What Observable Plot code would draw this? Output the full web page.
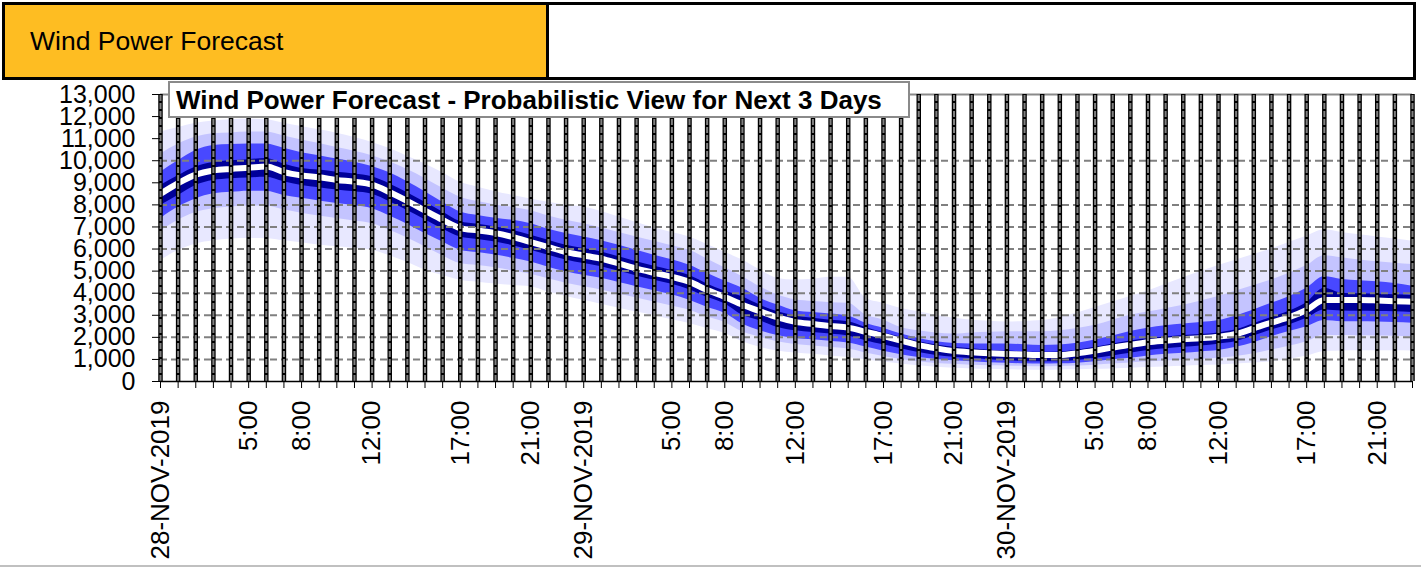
<!DOCTYPE html>
<html>
<head>
<meta charset="utf-8">
<script src="https://cdn.jsdelivr.net/npm/d3@7"></script>
<script src="https://cdn.jsdelivr.net/npm/@observablehq/plot@0.6"></script>
<style>
  body { margin: 0; background: #fff; }
  #wrap { position: relative; width: 1421px; height: 567px; overflow: hidden; background: #fff; font-family: "Liberation Sans", Arial, sans-serif; }
  #hdrLeft { position: absolute; left: 2px; top: 2px; width: 544px; height: 72px; background: #FEBD22; border: 3px solid #000; border-right: none; }
  #hdrLeft span { position: absolute; left: 25px; top: 21px; font-size: 26.5px; color: #000; }
  #hdrRight { position: absolute; left: 546px; top: 2px; width: 864px; height: 72px; background: #fff; border: 3px solid #000; }
  #chart { position: absolute; left: 0; top: 80px; }
  #title { position: absolute; left: 168px; top: 81px; width: 732px; height: 33px; background: #fff; border: 2px solid #8a8a8a; font-weight: bold; font-size: 26px; line-height: 34px; padding-left: 6px; box-sizing: content-box; white-space: nowrap; color: #000; }
  #bottomLine { position: absolute; left: 0; top: 565px; width: 1421px; height: 2px; background: #c0c0c0; }
</style>
</head>
<body>
<div id="wrap">
  <div id="hdrLeft"><span>Wind Power Forecast</span></div>
  <div id="hdrRight"></div>
  <div id="chart"></div>
  <div id="title">Wind Power Forecast - Probabilistic View for Next 3 Days</div>
  <div id="bottomLine"></div>
</div>
<script>
// Hours from 28-NOV-2019 00:00 (0..71)
const hours = d3.range(72);

// Labeled ticks on the x axis
const labeledHours = [0, 5, 8, 12, 17, 21, 24, 29, 32, 36, 41, 45, 48, 53, 56, 60, 65, 69];
const tickLabels = ["28-NOV-2019", "5:00", "8:00", "12:00", "17:00", "21:00",
                    "29-NOV-2019", "5:00", "8:00", "12:00", "17:00", "21:00",
                    "30-NOV-2019", "5:00", "8:00", "12:00", "17:00", "21:00"];

// Y gridlines shown in the reference
const gridValues = [1000, 2000, 3000, 4000, 5000, 6000, 7000, 8000, 10000];
const yTicks = [0, 1000, 2000, 3000, 4000, 5000, 6000, 7000, 8000, 9000, 10000, 11000, 12000, 13000];

// Forecast (MW)
const median = [8500, 8980, 9370, 9560, 9630, 9680, 9740, 9480, 9330, 9250, 9130, 9050, 8920,
  8570, 8170, 7740, 7320, 6950, 6840, 6720, 6540, 6310, 6090, 5860, 5710, 5560, 5340, 5110, 4920, 4740, 4510, 4140, 3830,
  3480, 3180, 2900, 2700, 2600, 2510, 2440, 2250, 2060, 1850, 1650, 1500, 1380, 1320, 1280,
  1250, 1220, 1200, 1200, 1280, 1400, 1540, 1660, 1780, 1850, 1910, 1960, 2030, 2150, 2410, 2670, 2910, 3240, 3690, 3690, 3690, 3670, 3640, 3610];

const navyHi = [8880, 9320, 9720, 9920, 10000, 10050, 10100, 9850, 9650, 9580, 9480, 9400, 9270,
  8950, 8550, 8120, 7680, 7250, 7120, 7000, 6840, 6620, 6400, 6170, 6020, 5870, 5650, 5420, 5220, 5030, 4800, 4420, 4100,
  3840, 3460, 3160, 2970, 2860, 2780, 2710, 2450, 2210, 2000, 1800, 1650, 1550, 1480, 1420,
  1380, 1340, 1330, 1340, 1420, 1550, 1700, 1830, 1950, 2020, 2080, 2130, 2200, 2340, 2620, 2900, 3180, 3570, 4220, 4000, 3970, 3950, 3930, 3900];

const navyLo = [7970, 8420, 8880, 9100, 9180, 9220, 9250, 9050, 8880, 8780, 8670, 8590, 8480,
  8140, 7750, 7330, 6910, 6540, 6430, 6320, 6150, 5940, 5720, 5500, 5340, 5200, 4990, 4780, 4590, 4410, 4160, 3820, 3520,
  3000, 2750, 2450, 2300, 2220, 2150, 2060, 1850, 1660, 1480, 1310, 1180, 1100, 1040, 990,
  950, 900, 890, 900, 950, 1050, 1160, 1280, 1400, 1480, 1550, 1610, 1690, 1810, 2060, 2330, 2560, 2860, 3240, 3190, 3180, 3170, 3160, 3120];

const medHi = [9480, 10000, 10460, 10690, 10730, 10760, 10760, 10560, 10360, 10230, 10080, 9930, 9740,
  9450, 9050, 8600, 8120, 7680, 7520, 7400, 7300, 7150, 6900, 6700, 6540, 6380, 6170, 5940, 5720, 5520, 5270, 4900, 4550,
  4220, 3770, 3460, 3200, 3120, 3060, 2970, 2640, 2410, 2150, 1950, 1800, 1720, 1700, 1700,
  1700, 1660, 1630, 1650, 1730, 1880, 2060, 2260, 2410, 2520, 2600, 2670, 2760, 2970, 3240, 3540, 3840, 4220, 4740, 4620, 4560, 4520, 4440, 4320];

const medLo = [7370, 7900, 8270, 8500, 8570, 8620, 8620, 8430, 8300, 8180, 8060, 7960, 7830,
  7500, 7120, 6700, 6320, 5950, 5840, 5730, 5580, 5410, 5180, 4970, 4810, 4680, 4480, 4290, 4110, 3930, 3680, 3360, 3090,
  2600, 2300, 2080, 1950, 1890, 1820, 1740, 1560, 1370, 1210, 1090, 1000, 940, 890, 850,
  830, 800, 790, 800, 830, 900, 980, 1050, 1160, 1230, 1280, 1340, 1400, 1550, 1760, 2030, 2260, 2480, 2760, 2710, 2710, 2700, 2670, 2640];

const lightHi = [10310, 10750, 11070, 11220, 11260, 11300, 11300, 11120, 10940, 10780, 10600, 10430, 10230,
  9950, 9600, 9200, 8750, 8350, 8150, 8000, 7880, 7740, 7500, 7300, 7140, 6950, 6750, 6550, 6350, 6150, 5940, 5550, 5150,
  4750, 4290, 3920, 3700, 3620, 3570, 3540, 3010, 2780, 2450, 2300, 2200, 2150, 2200, 2230,
  2250, 2250, 2250, 2300, 2400, 2550, 2780, 3000, 3150, 3300, 3450, 3650, 3850, 4100, 4350, 4600, 4900, 5250, 5700, 5600, 5500, 5420, 5360, 5300];

const lightLo = [6800, 7300, 7650, 7820, 7900, 7950, 7950, 7780, 7620, 7500, 7380, 7270, 7150,
  6850, 6500, 6100, 5700, 5340, 5250, 5150, 5000, 4860, 4650, 4450, 4290, 4150, 3960, 3780, 3600, 3420, 3230, 2930, 2670,
  2250, 2000, 1800, 1680, 1610, 1540, 1470, 1290, 1130, 1000, 900, 820, 780, 740, 710,
  700, 680, 670, 680, 700, 740, 790, 840, 890, 930, 960, 1000, 1050, 1130, 1260, 1430, 1600, 1800, 2100, 2080, 2070, 2060, 2050, 2030];

const lightestHi = [11300, 11500, 11700, 11800, 11860, 11880, 11860, 11700, 11550, 11400, 11250, 11050, 10830,
  10550, 10200, 9850, 9450, 9020, 8800, 8600, 8430, 8270, 8120, 8000, 7900, 7700, 7450, 7200, 6950, 6750, 6540, 6200, 5850,
  5500, 5050, 4670, 4600, 4630, 4720, 4720, 3770, 3540, 3310, 3160, 3000, 2860, 2780, 2730,
  2700, 2720, 2760, 2900, 3100, 3350, 3600, 3850, 4100, 4400, 4700, 4980, 5250, 5500, 5750, 6000, 6300, 6580, 6870, 6750, 6650, 6550, 6450, 6350];

const lightestLo = [5480, 5930, 6230, 6380, 6460, 6480, 6470, 6380, 6280, 6180, 6100, 6030, 5950,
  5700, 5400, 5050, 4800, 4590, 4500, 4420, 4350, 4290, 4050, 3850, 3680, 3500, 3320, 3150, 2980, 2800, 2630, 2400, 2180,
  1800, 1550, 1380, 1290, 1230, 1160, 1090, 980, 880, 790, 710, 650, 600, 570, 550,
  530, 520, 510, 520, 530, 550, 570, 600, 630, 660, 690, 720, 750, 790, 840, 900, 1000, 1150, 1360, 1380, 1390, 1390, 1390, 1380];

const rows = hours.map((h, i) => ({
  h, median: median[i], navyHi: navyHi[i], navyLo: navyLo[i], medHi: medHi[i], medLo: medLo[i],
  lightHi: lightHi[i], lightLo: lightLo[i], lightestHi: lightestHi[i], lightestLo: lightestLo[i]
}));

const labelOf = new Map(labeledHours.map((h, i) => [h, tickLabels[i]]));
const curve = "monotone-x";

const chart = Plot.plot({
  width: 1421,
  height: 487,
  marginTop: 14,
  marginBottom: 186,
  marginLeft: 160,
  marginRight: 9,
  style: { fontFamily: "'Liberation Sans', Arial, sans-serif", background: "transparent", color: "#000" },
  x: { type: "linear", domain: [0, 71] },
  y: { domain: [0, 13000] },
  marks: [
    Plot.areaY(rows, { x: "h", y1: "lightestLo", y2: "lightestHi", fill: "#E8E8FF", curve }),
    Plot.areaY(rows, { x: "h", y1: "lightLo", y2: "lightHi", fill: "#C4C4FF", curve }),
    Plot.areaY(rows, { x: "h", y1: "medLo", y2: "medHi", fill: "#4848FF", curve }),
    Plot.areaY(rows, { x: "h", y1: "navyLo", y2: "navyHi", fill: "#000099", curve }),
    Plot.lineY(rows, { x: "h", y: "median", stroke: "#fff", strokeWidth: 6, curve }),
    Plot.ruleY(gridValues, { x1: 0, x2: 71, stroke: "#808080", strokeWidth: 2, strokeDasharray: "7,4" }),
    Plot.ruleY([13000], { x1: 0, x2: 71, stroke: "#8a8a8a", strokeWidth: 2 }),
    Plot.ruleX(hours, { y1: 0, y2: 13000, stroke: "#000", strokeWidth: 4.5 }),
    Plot.ruleX(hours, { y1: 0, y2: 13000, stroke: "#808080", strokeWidth: 2, strokeDasharray: "6,2" }),
    Plot.ruleY([0], { x1: 0, x2: 71, stroke: "#000", strokeWidth: 1.5 }),
    Plot.axisY({ ticks: yTicks, tickSize: 8, tickPadding: 17, tickFormat: d3.format(","), fontSize: 25, fill: "#000", label: null }),
    Plot.axisX({ ticks: hours, tickSize: 7, tickPadding: 12, tickRotate: -90, fontSize: 26, fill: "#000",
                 tickFormat: (d) => labelOf.get(d) ?? "", label: null })
  ]
});
document.getElementById("chart").appendChild(chart);
</script>
</body>
</html>
